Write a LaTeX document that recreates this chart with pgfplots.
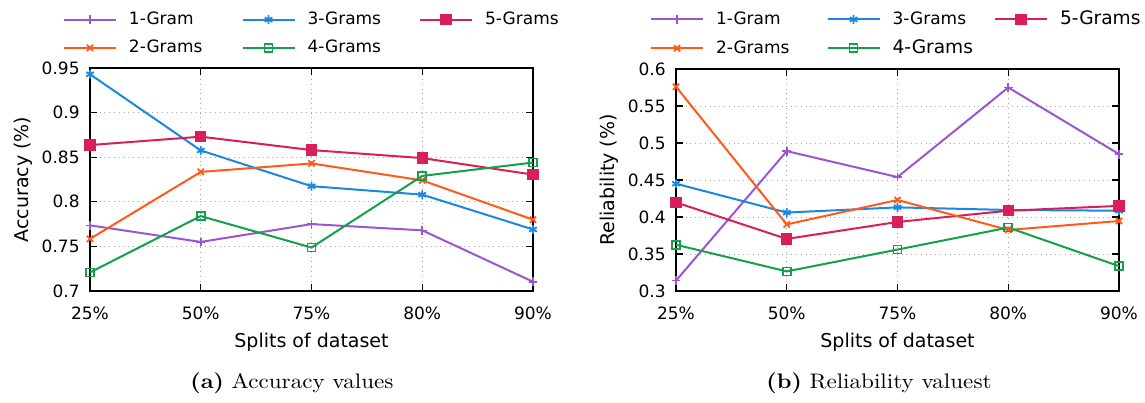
\documentclass[border=0pt]{standalone}
\usepackage{fontspec}
\usepackage{graphicx}
\usepackage{pgfplots}
\pgfplotsset{compat=1.18}
\newfontfamily\plotfont{DejaVu Sans}
\definecolor{cA}{HTML}{9B55D3}
\definecolor{cB}{HTML}{FF5A1A}
\definecolor{cC}{HTML}{1A88E0}
\definecolor{cD}{HTML}{14A048}
\definecolor{cE}{HTML}{D81E5B}
\pgfplotsset{
  base/.style={
    scale only axis,
    font=\plotfont\fontsize{8.5}{10}\selectfont,
    /pgf/number format/assume math mode=true,
    xmin=0, xmax=4,
    xtick={0,1,2,3,4},
    xticklabels={25\%,50\%,75\%,80\%,90\%},
    tick align=inside,
    major tick length=3.5pt,
    grid=major,
    major grid style={gray!70, dotted, line width=0.5pt},
    axis line style={line width=0.8pt},
    tick style={black, line width=0.6pt},
    xticklabel style={inner sep=0pt, anchor=center, yshift=-11pt},
    yticklabel style={inner sep=0pt, anchor=east, xshift=-5pt},
    xlabel style={font=\plotfont\fontsize{9.5}{11}\selectfont,
      at={([yshift=-25.5pt]axis description cs:0.5,0)}, anchor=center},
    ylabel style={font=\plotfont\fontsize{9.5}{11}\selectfont,
      at={([xshift=-33.5pt]axis description cs:0,0.5)}, anchor=center},
    xlabel={Splits of dataset},
    legend columns=3,
    legend cell align=left,
    legend image code/.code={
      \draw[mark repeat=2,mark phase=2] plot coordinates {(0pt,0pt) (13pt,0pt) (26pt,0pt)};},
    every axis plot/.append style={line width=1pt},
  },
  sA/.style={cA, mark=+, mark size=2.2pt, mark options={line width=0.8pt}},
  sB/.style={cB, mark=x, mark size=2.2pt, mark options={line width=0.9pt}},
  sC/.style={cC, mark=asterisk, mark size=2.2pt, mark options={line width=0.9pt}},
  sD/.style={cD, mark=square, mark size=2pt, mark options={line width=0.8pt}},
  sE/.style={cE, mark=square*, mark size=2.6pt, mark options={line width=0.5pt}},
}
\begin{document}
\begin{tikzpicture}
\path[use as bounding box] (0,0) rectangle (572.5pt,201pt);
\begin{axis}[base, at={(45pt,55.5pt)}, anchor=south west,
  width=221.5pt, height=111.5pt,
  ymin=0.7, ymax=0.95, ytick={0.7,0.75,...,0.951},
  yticklabels={0.7,0.75,0.8,0.85,0.9,0.95},
  ylabel={Accuracy (\%)},
  legend style={draw=none, fill=none, inner sep=0pt, outer sep=0pt,
    at={(-0.061,1.252)}, anchor=north west,
    nodes={inner sep=0pt},
    font=\plotfont\fontsize{8.5}{10}\selectfont,
    /tikz/every odd column/.append style={column sep=6pt},
    /tikz/column 2/.style={column sep=19.5pt},
    /tikz/column 4/.style={column sep=19pt},
    row sep=6.3pt}]
\addplot[sA] coordinates {(0,0.7736) (1,0.755) (2,0.775) (3,0.768) (4,0.7104)};
\addlegendentry{1-Gram}
\addplot[sC] coordinates {(0,0.943) (1,0.8576) (2,0.8175) (3,0.808) (4,0.769)};
\addlegendentry{3-Grams}
\addplot[sE] coordinates {(0,0.8636) (1,0.873) (2,0.858) (3,0.849) (4,0.8305)};
\addlegendentry{5-Grams}
\addplot[sB] coordinates {(0,0.7584) (1,0.8335) (2,0.843) (3,0.824) (4,0.780)};
\addlegendentry{2-Grams}
\addplot[sD] coordinates {(0,0.7208) (1,0.784) (2,0.7487) (3,0.829) (4,0.844)};
\addlegendentry{4-Grams}
\end{axis}
\begin{axis}[base, at={(338pt,55.5pt)}, anchor=south west,
  width=221.5pt, height=111pt,
  ymin=0.3, ymax=0.6, ytick={0.3,0.35,...,0.601},
  yticklabels={0.3,0.35,0.4,0.45,0.5,0.55,0.6},
  ylabel={Reliability (\%)},
  legend style={draw=none, fill=none, inner sep=0pt, outer sep=0pt,
    at={(-0.0587,1.261)}, anchor=north west,
    nodes={inner sep=0pt},
    font=\plotfont\fontsize{8.5}{10}\selectfont,
    /tikz/every odd column/.append style={column sep=6pt},
    /tikz/column 2/.style={column sep=18.5pt},
    /tikz/column 4/.style={column sep=10.5pt},
    row sep=6pt}]
\addplot[sA] coordinates {(0,0.314) (1,0.489) (2,0.454) (3,0.575) (4,0.485)};
\addlegendentry{1-Gram}
\addplot[sC] coordinates {(0,0.445) (1,0.406) (2,0.413) (3,0.4095) (4,0.4085)};
\addlegendentry{3-Grams}
\addplot[sE] coordinates {(0,0.4197) (1,0.3704) (2,0.3933) (3,0.4085) (4,0.415)};
\addlegendentry{\fontsize{9.3}{11}\selectfont 5-Grams}
\addplot[sB] coordinates {(0,0.576) (1,0.390) (2,0.423) (3,0.3825) (4,0.3946)};
\addlegendentry{2-Grams}
\addplot[sD] coordinates {(0,0.3625) (1,0.3265) (2,0.356) (3,0.3857) (4,0.3336)};
\addlegendentry{\fontsize{9.3}{11}\selectfont 4-Grams}
\end{axis}
\node[font=\fontsize{10.5}{12}\selectfont] at (146pt,9.5pt) {\scalebox{1.1}[1]{\textbf{(a)} Accuracy values}};
\node[font=\fontsize{10.5}{12}\selectfont] at (439.5pt,9.5pt) {\scalebox{1.1}[1]{\textbf{(b)} Reliability valuest}};
\end{tikzpicture}
\end{document}
